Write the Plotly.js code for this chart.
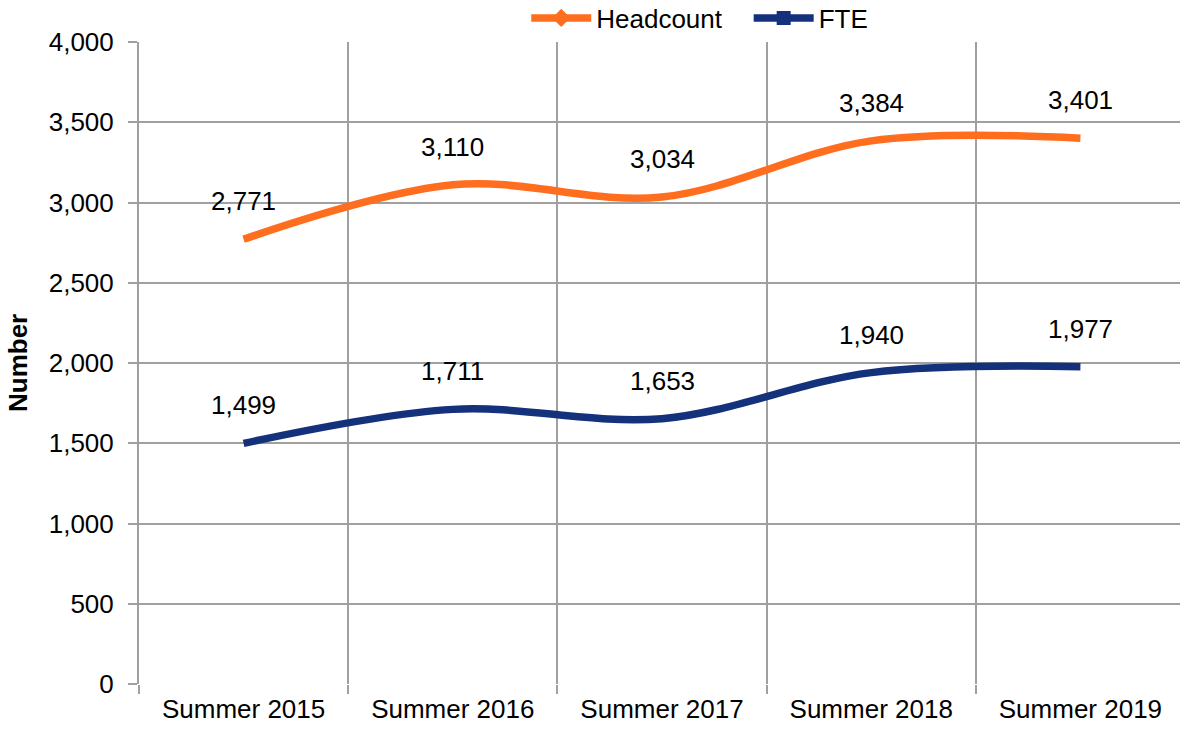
<!DOCTYPE html>
<html>
<head>
<meta charset="utf-8">
<script src="https://cdn.plot.ly/plotly-3.0.1.min.js"></script>
<style>html,body{margin:0;padding:0;background:#fff;}#chart{width:1180px;height:732px;}</style>
</head>
<body>
<div id="chart"></div>
<script>
const categories = ["Summer 2015", "Summer 2016", "Summer 2017", "Summer 2018", "Summer 2019"];
const headcount = [2771, 3110, 3034, 3384, 3401];
const fte = [1499, 1711, 1653, 1940, 1977];
const seriesNames = ["Headcount", "FTE"];
const yTickVals = [0, 500, 1000, 1500, 2000, 2500, 3000, 3500, 4000];

const orange = "#FF6D1F";
const navy = "#14317B";
const font = "Liberation Sans, Arial, sans-serif";
const fs = 26;

const traces = [
  {x: categories, y: headcount, type: "scatter", mode: "lines", line: {color: orange, width: 7.5, shape: "spline", smoothing: 1}, showlegend: false, hoverinfo: "skip"},
  {x: categories, y: fte, type: "scatter", mode: "lines", line: {color: navy, width: 7.5, shape: "spline", smoothing: 1}, showlegend: false, hoverinfo: "skip"},
  {x: [null], y: [null], type: "scatter", mode: "lines+markers", name: seriesNames[0] + "\u00A0\u00A0\u00A0", line: {color: orange, width: 7.5}, marker: {symbol: "diamond", size: 14, color: orange}},
  {x: [null], y: [null], type: "scatter", mode: "lines+markers", name: seriesNames[1], line: {color: navy, width: 7.5}, marker: {symbol: "square", size: 14, color: navy}}
];

const annotations = [];
[headcount, fte].forEach(series => {
  series.forEach((v, i) => {
    annotations.push({x: categories[i], y: v, xref: "x", yref: "y", text: v.toLocaleString("en-US"), showarrow: false, yshift: 38, font: {family: font, size: fs, color: "#000"}});
  });
});
annotations.push({xref: "paper", yref: "paper", x: (18 - 139) / 1041, y: 0.5, xanchor: "center", yanchor: "middle", textangle: -90, showarrow: false, text: "<b>Number</b>", font: {family: font, size: fs, color: "#000"}});

const layout = {
  width: 1180, height: 732,
  margin: {l: 139, r: 0, t: 42, b: 48, autoexpand: false},
  paper_bgcolor: "#fff", plot_bgcolor: "#fff",
  font: {family: font, size: fs, color: "#000"},
  showlegend: true,
  legend: {orientation: "h", xref: "container", yref: "container", x: 0.593, xanchor: "center", y: 0.9754, yanchor: "middle", font: {family: font, size: fs, color: "#000"}, bgcolor: "rgba(0,0,0,0)", itemwidth: 60, tracegroupgap: 0},
  xaxis: {
    type: "category", range: [-0.5, 4.476], tickson: "boundaries",
    showgrid: true, gridcolor: "#A0A0A0", gridwidth: 2,
    ticks: "outside", ticklen: 9, tickcolor: "#A0A0A0", tickwidth: 2,
    showline: false, zeroline: false, ticklabelstandoff: 7,
    tickfont: {family: font, size: fs, color: "#000"}, fixedrange: true
  },
  yaxis: {
    range: [0, 4000], tickvals: yTickVals, tickformat: ",",
    showgrid: true, gridcolor: "#A0A0A0", gridwidth: 2,
    ticks: "outside", ticklen: 9, tickcolor: "#A0A0A0", tickwidth: 2,
    showline: true, linecolor: "#A0A0A0", linewidth: 2, zeroline: false, ticklabelstandoff: 9,
    tickfont: {family: font, size: fs, color: "#000"},
    fixedrange: true
  },
  annotations: annotations
};

Plotly.newPlot("chart", traces, layout, {displayModeBar: false, staticPlot: true});
</script>
</body>
</html>
